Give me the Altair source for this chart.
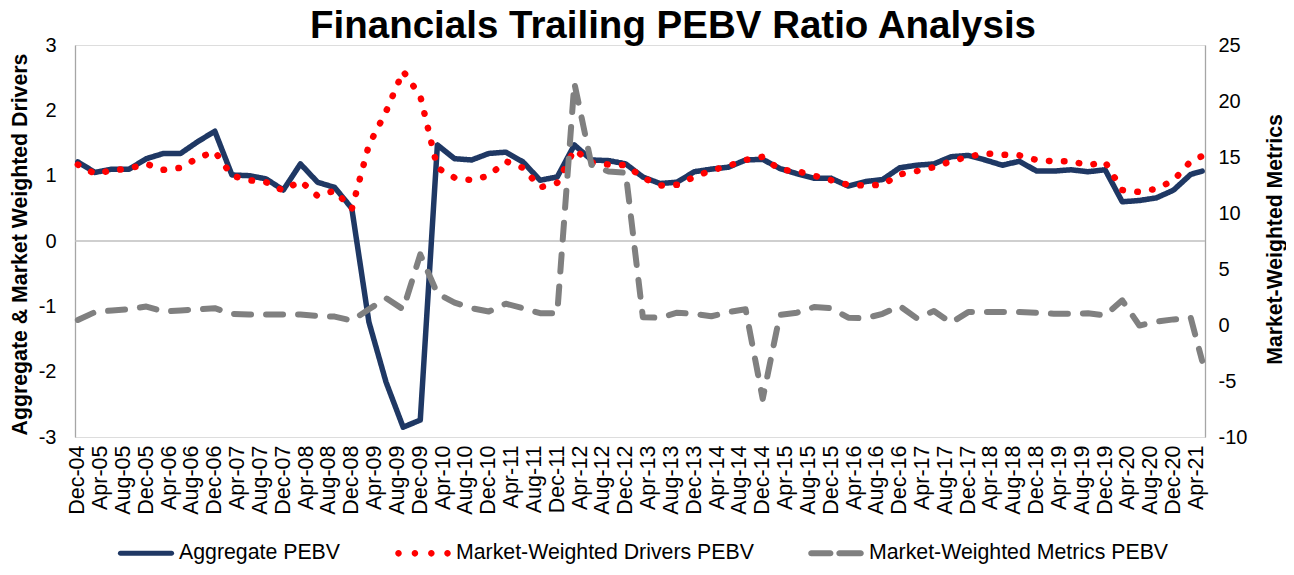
import altair as alt
import pandas as pd

# ---------------- data ----------------
periods = (["2004-12"]
           + [f"{y}-{m:02d}" for y in range(2005, 2021) for m in (3, 6, 9, 12)]
           + ["2021-03", "2021-05"])

aggregate = [1.21, 1.05, 1.10, 1.10, 1.26, 1.34, 1.34, 1.52, 1.68, 1.01,
             1.00, 0.95, 0.78, 1.18, 0.90, 0.82, 0.50, -1.24, -2.16, -2.85,
             -2.74, 1.47, 1.26, 1.24, 1.34, 1.36, 1.21, 0.93, 0.98, 1.47,
             1.24, 1.23, 1.18, 0.98, 0.88, 0.90, 1.06, 1.10, 1.13, 1.24,
             1.25, 1.11, 1.03, 0.96, 0.96, 0.84, 0.91, 0.94, 1.12, 1.16,
             1.18, 1.29, 1.31, 1.24, 1.16, 1.22, 1.07, 1.07, 1.09, 1.06,
             1.09, 0.60, 0.62, 0.66, 0.78, 1.02, 1.07]

drivers = [1.17, 1.03, 1.08, 1.11, 1.18, 1.09, 1.12, 1.27, 1.37, 1.00,
           0.93, 0.90, 0.77, 0.92, 0.69, 0.77, 0.49, 1.47, 1.98, 2.60,
           2.22, 1.12, 0.97, 0.93, 1.00, 1.22, 1.12, 0.82, 0.89, 1.40,
           1.20, 1.17, 1.16, 0.97, 0.85, 0.86, 0.98, 1.08, 1.15, 1.24,
           1.29, 1.09, 1.07, 1.00, 0.93, 0.86, 0.85, 0.86, 1.02, 1.07,
           1.13, 1.22, 1.29, 1.34, 1.32, 1.31, 1.24, 1.22, 1.22, 1.16,
           1.21, 0.78, 0.75, 0.80, 0.93, 1.22, 1.30]

metrics = [0.45, 1.15, 1.30, 1.40, 1.65, 1.20, 1.30, 1.40, 1.50, 1.00,
           0.93, 0.93, 0.93, 0.93, 0.80, 0.75, 0.40, 1.40, 2.40, 1.40,
           6.30, 2.80, 2.00, 1.50, 1.20, 1.90, 1.50, 1.05, 1.05, 21.6,
           14.3, 13.7, 13.6, 0.70, 0.65, 1.10, 1.00, 0.78, 1.15, 1.40,
           -6.6, 0.90, 1.10, 1.60, 1.50, 0.65, 0.60, 1.00, 1.70, 0.60,
           1.25, 0.20, 1.15, 1.15, 1.15, 1.15, 1.10, 1.00, 1.00, 1.05,
           0.85, 2.20, -0.05, 0.30, 0.50, 0.65, -3.2]

tick_labels = ["Dec-04", "Apr-05", "Aug-05", "Dec-05", "Apr-06", "Aug-06", "Dec-06",
               "Apr-07", "Aug-07", "Dec-07", "Apr-08", "Aug-08", "Dec-08", "Apr-09",
               "Aug-09", "Dec-09", "Apr-10", "Aug-10", "Dec-10", "Apr-11", "Aug-11",
               "Dec-11", "Apr-12", "Aug-12", "Dec-12", "Apr-13", "Aug-13", "Dec-13",
               "Apr-14", "Aug-14", "Dec-14", "Apr-15", "Aug-15", "Dec-15", "Apr-16",
               "Aug-16", "Dec-16", "Apr-17", "Aug-17", "Dec-17", "Apr-18", "Aug-18",
               "Dec-18", "Apr-19", "Aug-19", "Dec-19", "Apr-20", "Aug-20", "Dec-20",
               "Apr-21"]

left_ticks = [-3, -2, -1, 0, 1, 2, 3]
right_ticks = [-10, -5, 0, 5, 10, 15, 20, 25]

series_names = ["Aggregate PEBV", "Market-Weighted Drivers PEBV", "Market-Weighted Metrics PEBV"]
series_colors = ["#1f3864", "#ff0000", "#808080"]
series_dashes = [[1, 0], [0.5, 14.5], [17, 15]]
series_widths = [5.5, 6.5, 6]

# ---------------- table ----------------
def month_index(p):
    y, m = map(int, p.split("-"))
    return (y - 2004) * 12 + m - 12

mons = {"Jan": 1, "Feb": 2, "Mar": 3, "Apr": 4, "May": 5, "Jun": 6, "Jul": 7,
        "Aug": 8, "Sep": 9, "Oct": 10, "Nov": 11, "Dec": 12}
tick_pos = [month_index(f"20{t[-2:]}-{mons[t[:3]]:02d}") for t in tick_labels]

rows = []
for name, vals in zip(series_names, [aggregate, drivers, metrics]):
    for p, v in zip(periods, vals):
        rows.append({"m": month_index(p), "value": v, "series": name})
df = pd.DataFrame(rows)

FONT = "Liberation Sans"
label_lookup = "{" + ",".join(f"'{p}':'{t}'" for p, t in zip(tick_pos, tick_labels)) + "}"

x_enc = alt.X("m:Q",
              scale=alt.Scale(domain=[-0.5, 197.5], nice=False, zero=False),
              axis=alt.Axis(values=tick_pos, labelExpr=label_lookup + "[datum.value]",
                            labelAngle=-90, labelFontSize=21.5, labelFont=FONT,
                            labelColor="#000000", labelPadding=8, domain=False,
                            ticks=False, grid=False, title=None, labelOverlap=False,
                            labelBound=False, labelFlush=False))

# legend swatch shapes (unit box -1..1, scaled by symbolSize)
def circle(cx, r):
    return f"M{cx - r:.3f},0 A{r},{r} 0 1,0 {cx + r:.3f},0 A{r},{r} 0 1,0 {cx - r:.3f},0 Z"

def pill(x0, x1, h):
    return (f"M{x0:.3f},{-h} H{x1:.3f} A{h},{h} 0 0,1 {x1:.3f},{h} "
            f"H{x0:.3f} A{h},{h} 0 0,1 {x0:.3f},{-h} Z")

legend_shapes = [
    pill(-0.92, 0.92, 0.09),
    " ".join(circle(c, 0.118) for c in (-0.88, -0.29, 0.30, 0.88)),
    pill(-0.89, -0.2, 0.108) + " " + pill(0.12, 0.89, 0.108),
]

leg = alt.Legend(title=None, orient="none", direction="horizontal", legendX=43, legendY=480,
                 symbolSize=3100, labelFontSize=21.3, labelFont=FONT, symbolStrokeWidth=0,
                 symbolOpacity=1, labelColor="#000000", columnPadding=54, labelOffset=5,
                 padding=0, labelLimit=600)

left_axis = alt.Axis(values=left_ticks, labelExpr="'' + datum.value", labelFontSize=20,
                     labelFont=FONT, labelColor="#000000", labelPadding=19, ticks=False,
                     domainColor="#a6a6a6", domainWidth=1.3, grid=False,
                     title="Aggregate & Market Weighted Drivers", titleFont=FONT,
                     titleFontSize=21.3, titleFontWeight="bold", titleColor="#000000",
                     titleAngle=270, titleX=-55, titleY=199, titleAlign="center",
                     titleBaseline="middle")
left_scale = alt.Scale(domain=[-3, 3], nice=False, zero=False)

right_axis = alt.Axis(orient="right", values=right_ticks, labelExpr="'' + datum.value",
                      labelFontSize=20, labelFont=FONT, labelColor="#000000", labelPadding=13,
                      ticks=False, domainColor="#a6a6a6", domainWidth=1.3, grid=False,
                      title="Market-Weighted Metrics", titleFont=FONT, titleFontSize=21.2,
                      titleFontWeight="bold", titleColor="#000000", titleAngle=270,
                      titleX=70, titleY=194, titleAlign="center", titleBaseline="middle")
right_scale = alt.Scale(domain=[-10, 25], nice=False, zero=False)

base = alt.Chart(df)

zero_line = alt.Chart(pd.DataFrame({"value": [0]})).mark_rule(
    color="#bfbfbf", strokeWidth=1.3).encode(
    y=alt.Y("value:Q", scale=left_scale, axis=left_axis))

def series_line(i, y_scale, y_axis):
    return base.transform_filter(alt.datum.series == series_names[i]).mark_line(
        strokeCap="round", strokeJoin="round", color=series_colors[i],
        strokeDash=series_dashes[i], strokeWidth=series_widths[i]).encode(
        x=x_enc,
        y=alt.Y("value:Q", scale=y_scale, axis=y_axis),
        order="m:Q")

blue = series_line(0, left_scale, left_axis)
red = series_line(1, left_scale, left_axis)
gray = series_line(2, right_scale, right_axis)

legend_layer = alt.Chart(pd.DataFrame({"series": series_names})).mark_point(
    filled=True, size=3100, opacity=0).encode(
    color=alt.Color("series:N", scale=alt.Scale(domain=series_names, range=series_colors),
                    legend=leg),
    shape=alt.Shape("series:N", scale=alt.Scale(domain=series_names, range=legend_shapes),
                    legend=leg),
)

chart = alt.layer(alt.layer(zero_line, blue, red), gray, legend_layer).resolve_scale(
    y="independent"
).properties(
    width=1130, height=392,
    title=alt.TitleParams("Financials Trailing PEBV Ratio Analysis", font=FONT, fontSize=38.5,
                          fontWeight="bold", color="#000000", anchor="middle", dx=33, dy=17,
                          offset=6),
    autosize=alt.AutoSizeParams(type="none"),
    padding={"left": 67, "top": 37, "right": 81, "bottom": 128},
).configure_view(stroke=None).configure(background="white")

chart.save("out.html", embed_options={"renderer": "svg", "actions": False})
